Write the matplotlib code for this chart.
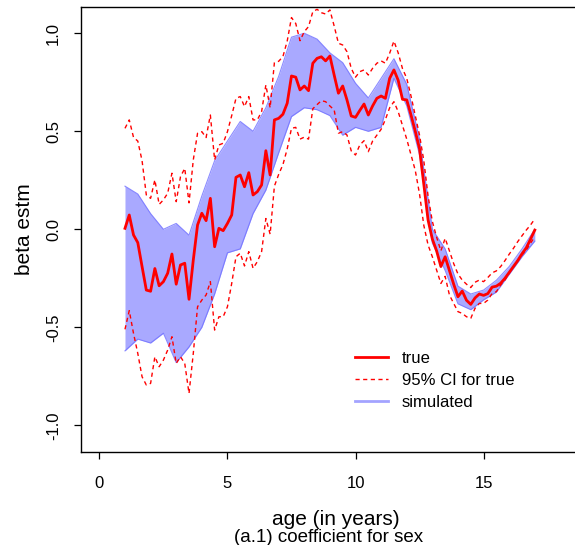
import matplotlib
matplotlib.use("Agg")
import matplotlib.pyplot as plt
from matplotlib.lines import Line2D

plt.rcParams['font.family'] = ['Liberation Sans', 'DejaVu Sans']

# ages: 1 to 17 years in 2-month steps (6 per year)
age = [1 + i / 6 for i in range(97)]

# true coefficient (one row per year, 6 values each, last one is age 17)
beta_true = [
    0.005, 0.073, -0.029, -0.068, -0.19, -0.31,
    -0.316, -0.2, -0.288, -0.267, -0.224, -0.126,
    -0.28, -0.182, -0.173, -0.357, -0.157, 0.022,
    0.082, 0.044, 0.158, -0.089, 0.005, -0.007,
    0.03, 0.073, 0.265, 0.277, 0.217, 0.289,
    0.175, 0.192, 0.226, 0.401, 0.277, 0.558,
    0.566, 0.587, 0.643, 0.782, 0.776, 0.711,
    0.731, 0.707, 0.847, 0.872, 0.88, 0.859,
    0.884, 0.787, 0.694, 0.731, 0.66, 0.578,
    0.571, 0.606, 0.639, 0.583, 0.629, 0.668,
    0.68, 0.668, 0.77, 0.813, 0.76, 0.663,
    0.66, 0.583, 0.5, 0.41, 0.23, 0.047,
    -0.05, -0.11, -0.19, -0.14, -0.21, -0.28,
    -0.344, -0.315, -0.362, -0.383, -0.35, -0.33,
    -0.337, -0.328, -0.295, -0.29, -0.275, -0.25,
    -0.22, -0.19, -0.16, -0.125, -0.095, -0.05,
    -0.004,
]

ci_upper = [
    0.515, 0.558, 0.469, 0.45, 0.35, 0.175,
    0.158, 0.252, 0.127, 0.15, 0.184, 0.286,
    0.141, 0.268, 0.311, 0.135, 0.354, 0.49,
    0.498, 0.468, 0.583, 0.354, 0.43, 0.439,
    0.498, 0.58, 0.668, 0.677, 0.626, 0.677,
    0.558, 0.558, 0.6, 0.736, 0.62, 0.85,
    0.857, 0.881, 0.96, 1.08, 1.05, 0.962,
    1.008, 1.034, 1.11, 1.122, 1.105, 1.098,
    1.119, 1.037, 0.949, 0.94, 0.906, 0.821,
    0.776, 0.804, 0.813, 0.787, 0.821, 0.847,
    0.859, 0.847, 0.898, 0.96, 0.9, 0.82,
    0.77, 0.68, 0.58, 0.48, 0.35, 0.17,
    0.04, -0.04, -0.11, -0.046, -0.11, -0.175,
    -0.228, -0.259, -0.28, -0.297, -0.27, -0.259,
    -0.267, -0.246, -0.222, -0.212, -0.19, -0.16,
    -0.127, -0.097, -0.063, -0.033, -0.004, 0.022,
    0.053,
]

ci_lower = [
    -0.51, -0.415, -0.531, -0.633, -0.752, -0.794,
    -0.786, -0.65, -0.701, -0.667, -0.616, -0.548,
    -0.684, -0.65, -0.684, -0.837, -0.633, -0.395,
    -0.361, -0.335, -0.267, -0.514, -0.446, -0.446,
    -0.395, -0.276, -0.14, -0.122, -0.187, -0.114,
    -0.199, -0.165, -0.114, 0.055, -0.025, 0.22,
    0.28, 0.33, 0.41, 0.515, 0.52, 0.46,
    0.47, 0.46, 0.615, 0.636, 0.656, 0.651,
    0.629, 0.609, 0.49, 0.498, 0.481, 0.4,
    0.379, 0.43, 0.452, 0.396, 0.45, 0.48,
    0.51, 0.56, 0.62, 0.651, 0.6, 0.53,
    0.46, 0.38, 0.3, 0.18, 0.02, -0.08,
    -0.14, -0.208, -0.276, -0.24, -0.335, -0.378,
    -0.42, -0.429, -0.446, -0.454, -0.403, -0.378,
    -0.378, -0.361, -0.327, -0.318, -0.284, -0.259,
    -0.224, -0.19, -0.157, -0.131, -0.106, -0.071,
    -0.038,
]

# spread of the simulated curves, read every half year
sim_age = [1 + i / 2 for i in range(33)]
sim_hi = [0.22, 0.18, 0.08, 0.0, 0.03, -0.03, 0.17, 0.35, 0.45, 0.55, 0.5,
          0.62, 0.78, 0.98, 1.0, 0.97, 0.9, 0.85, 0.745, 0.67, 0.77, 0.87,
          0.74, 0.46, 0.0, -0.1, -0.29, -0.33, -0.31, -0.26, -0.19, -0.1, 0.0]
sim_lo = [-0.62, -0.56, -0.58, -0.53, -0.68, -0.6, -0.5, -0.33, -0.12, -0.1,
          0.08, 0.2, 0.39, 0.575, 0.62, 0.61, 0.58, 0.48, 0.52, 0.5, 0.52,
          0.77, 0.63, 0.38, -0.07, -0.21, -0.38, -0.41, -0.36, -0.32, -0.23,
          -0.14, -0.06]

legend_labels = ["true", "95% CI for true", "simulated"]

fig = plt.figure(figsize=(5.75, 5.45), dpi=100)
ax = fig.add_axes([0.1403, 0.1706, 0.886, 0.8166])

sim_col = "#7070ff"
ax.fill_between(sim_age, sim_lo, sim_hi, color=sim_col, alpha=0.6, lw=0)
ax.plot(sim_age, sim_hi, color=sim_col, lw=0.8, alpha=0.8)
ax.plot(sim_age, sim_lo, color=sim_col, lw=0.8, alpha=0.8)

ax.plot(age, ci_upper, color="red", lw=1.0, dashes=(3, 2.5))
ax.plot(age, ci_lower, color="red", lw=1.0, dashes=(3, 2.5))
ax.plot(age, beta_true, color="red", lw=2.0)

ax.set_xlim(-0.73, 19.16)
ax.set_ylim(-1.136, 1.134)
ax.set_xticks([0, 5, 10, 15])
ax.set_yticks([-1.0, -0.5, 0.0, 0.5, 1.0])
ax.set_yticklabels(["-1.0", "-0.5", "0.0", "0.5", "1.0"])
ax.tick_params(labelsize=12, length=5, width=0.9, direction="out")
ax.tick_params(axis="x", pad=12)
ax.tick_params(axis="y", pad=9)
for lab in ax.get_yticklabels():
    lab.set_rotation(90)
    lab.set_va("center")
for s in ax.spines.values():
    s.set_linewidth(1.0)

ax.set_xlabel("age (in years)", fontsize=15, labelpad=14)
ax.set_ylabel("beta estm", fontsize=15, labelpad=9)
fig.text(329 / 575, 1 - 538 / 545, "(a.1) coefficient for sex", fontsize=13.5,
         ha="center", va="center")

handles = [
    Line2D([], [], color="red", lw=2.0),
    Line2D([], [], color="red", lw=1.0, dashes=(3, 2.5)),
    Line2D([], [], color="#a3a3ff", lw=2.0),
]
ax.legend(handles, legend_labels, loc="upper left", frameon=False,
          bbox_to_anchor=(355 / 575, 1 - 351 / 545), bbox_transform=fig.transFigure,
          fontsize=12, handlelength=1.95, handletextpad=0.85, labelspacing=0.42,
          borderpad=0, borderaxespad=0)

fig.savefig("out.png", dpi=100)
